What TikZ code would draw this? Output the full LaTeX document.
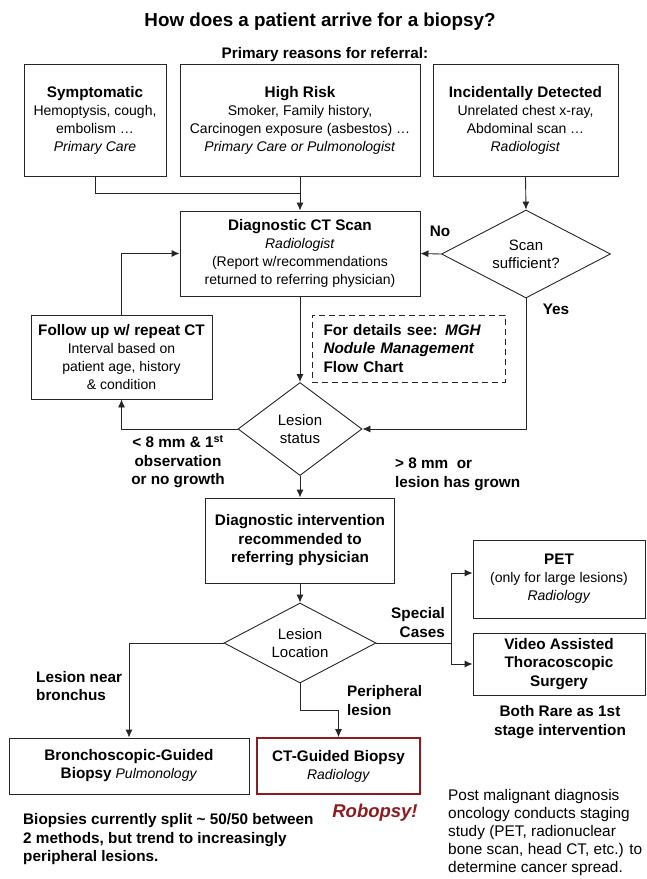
\documentclass[tikz,border=0pt]{standalone}
\usepackage{fontspec}
\setmainfont{Liberation Sans}
\usetikzlibrary{shapes.geometric,arrows.meta}
\definecolor{robored}{RGB}{140,28,32}
\newcommand{\hd}[1]{{\fontsize{15.3}{18}\selectfont\bfseries #1}}
\newcommand{\hdfont}{\fontsize{15.3}{18.5}\selectfont\bfseries}

\begin{document}
\begin{tikzpicture}[x=1pt,y=-1pt,
                    every node/.style={inner sep=0pt,font=\fontsize{14}{18}\selectfont},
                    box/.style={draw=black!85,rectangle,align=center,line width=0.9pt},
                    dia/.style={draw=black!85,diamond,shape aspect=2,align=center,line width=0.9pt,
                                font=\fontsize{15}{18}\selectfont},
                    lab/.style={font=\hdfont},
                    line/.style={draw=black!85,line width=0.9pt},
                    arr/.style={line,-{Latex[length=8pt,width=7pt]}}
                   ]
 \useasboundingbox (0,0) rectangle (646,879);

 \draw (320,22)  node[font=\fontsize{18.8}{22}\selectfont\bfseries] (title)
                 {How does a patient arrive for a biopsy?};
 \draw (325,55)  node[lab] (reasons) {Primary reasons for referral:};

 \draw (95,120)  node[box,minimum width=142pt,minimum height=112pt] (symp)
                 {\hd{Symptomatic}\\Hemoptysis, cough,\\embolism \ldots\\\textit{Primary Care}};
 \draw (300,120) node[box,minimum width=240pt,minimum height=112pt] (risk)
                 {\hd{High Risk}\\Smoker, Family history,\\Carcinogen exposure (asbestos) \ldots\\
                  \textit{Primary Care or Pulmonologist}};
 \draw (525.5,120) node[box,minimum width=185pt,minimum height=112pt] (incid)
                 {\hd{Incidentally Detected}\\Unrelated chest x-ray,\\Abdominal scan \ldots\\\textit{Radiologist}};

 \draw (300,253.5) node[box,minimum width=240pt,minimum height=85pt] (ct)
                 {\hd{Diagnostic CT Scan}\\\textit{Radiologist}\\(Report w/recommendations\\
                  returned to referring physician)};
 \draw (526,254) node[dia,minimum width=169pt,minimum height=88pt] (scan) {Scan\\sufficient?};

 \draw (121.5,357) node[box,minimum width=181pt,minimum height=84pt] (follow)
                 {\hd{Follow up w/ repeat CT}\\Interval based on\\patient age, history\\\& condition};
 \draw (408.5,348.5) node[box,dash pattern=on 6pt off 4pt,minimum width=193pt,minimum height=67pt,
                          text width=170pt,align=left,font=\hdfont] (details)
                 {For details see: \textit{MGH}\\\textit{Nodule Management}\\Flow Chart};

 \draw (300,429) node[dia,minimum width=124pt,minimum height=93pt] (status) {Lesion\\status};
 \draw (300,540.5) node[box,minimum width=189pt,minimum height=85pt,font=\hdfont] (interv)
                 {Diagnostic intervention\\recommended to\\referring physician};
 \draw (300,643) node[dia,minimum width=152pt,minimum height=80pt] (loc) {Lesion\\Location};

 \draw (559,579) node[box,minimum width=172pt,minimum height=78pt] (pet)
                 {\hd{PET}\\(only for large lesions)\\\textit{Radiology}};
 \draw (559,664) node[box,minimum width=172pt,minimum height=62pt,font=\hdfont] (vats)
                 {Video Assisted\\Thoracoscopic\\Surgery};
 \draw (129,766) node[box,minimum width=240pt,minimum height=56pt] (bronch)
                 {\hd{Bronchoscopic-Guided}\\\hd{Biopsy} \textit{Pulmonology}};
 \draw (338.5,766) node[box,draw=robored,line width=1.6pt,minimum width=163pt,minimum height=56pt] (ctg)
                 {\hd{CT-Guided Biopsy}\\\textit{Radiology}};

 \draw (440,231) node[lab] (no) {No};
 \draw (556,309) node[lab] (yes) {Yes};
 \draw (178,462) node[lab,align=center] (small)
                 {< 8 mm \& 1\textsuperscript{st}\\observation\\or no growth};
 \draw (395,474.5) node[lab,align=left,anchor=west] (large) {> 8 mm~~or\\lesion has grown};
 \draw (445,622.5) node[lab,align=right,anchor=east] (special) {Special\\Cases};
 \draw (36,686) node[lab,align=left,anchor=west] (near) {Lesion near\\bronchus};
 \draw (347,700.5) node[lab,align=left,anchor=west] (periph) {Peripheral\\lesion};
 \draw (560,722) node[lab,align=center] (rare) {Both Rare as 1st\\stage intervention};
 \draw (375,813) node[font=\fontsize{18.5}{20}\selectfont\bfseries\itshape,text=robored] (robopsy)
                 {Robopsy!};
 \draw (23,839.5) node[lab,align=left,anchor=west] (split)
                 {Biopsies currently split \textasciitilde{} 50/50 between\\2 methods, but trend to increasingly\\
                  peripheral lesions.};
 \draw (448,833) node[anchor=west,align=left,font=\fontsize{15.4}{18}\selectfont] (post)
                 {Post malignant diagnosis\\oncology conducts staging\\study (PET, radionuclear\\
                  bone scan, head CT, etc.) to\\determine cancer spread.};

 \coordinate (join) at (300,193);
 \coordinate (fork) at (451,643);
 \draw[line] (symp.south) |- (join);
 \draw[arr]  (risk.south) -- (ct.north);
 \draw[arr]  (incid.south) -- (scan.north);
 \draw[arr]  (scan.west) -- (ct.east);
 \draw[arr]  (scan.south) |- (status.east);
 \draw[arr]  (ct.south) -- (status.north);
 \draw[arr]  (status.west) -| (follow.south);
 \draw[arr]  (follow.north) |- (ct.west);
 \draw[arr]  (status.south) -- (interv.north);
 \draw[arr]  (interv.south) -- (loc.north);
 \draw[arr]  (loc.west) -| (bronch.north);
 \draw[arr]  (loc.south) -- ++(0,27) -| (ctg.north);
 \draw[line] (loc.east) -- (fork);
 \draw[arr]  (fork) |- ([yshift=6pt]pet.west);
 \draw[arr]  (fork) |- (vats.west);

\end{tikzpicture}
\end{document}
